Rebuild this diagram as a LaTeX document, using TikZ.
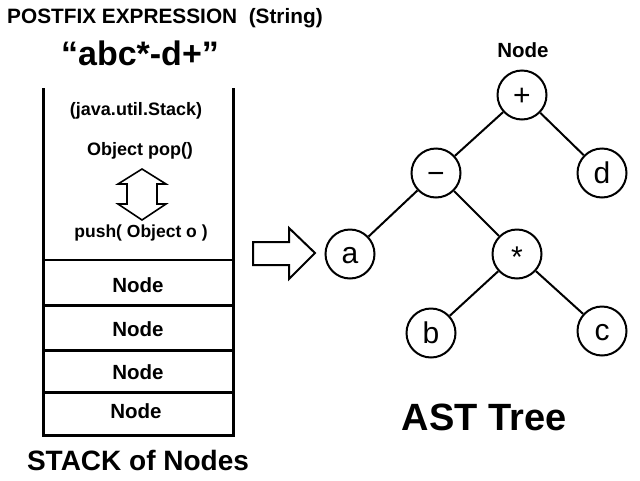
\documentclass[tikz,border=0pt]{standalone}
\usepackage{fontspec}
\setmainfont{Liberation Sans}
\newcommand{\fsz}[1]{\fontsize{#1}{#1}\selectfont}
\newcommand{\ctrglyph}[2]{\raisebox{-#1}[0pt][0pt]{#2}}
\begin{document}
\begin{tikzpicture}[x=1pt,y=-1pt,
  lbl/.style={inner sep=0pt, anchor=base, font=\bfseries},
  tnode/.style={circle, draw, line width=2pt, minimum size=49pt, inner sep=0pt, font=\fsz{30}},
  edge/.style={line width=2pt},
  wall/.style={line width=3pt},
  hollow/.style={draw, line width=1.6pt, line join=miter, fill=white}]
\useasboundingbox (0,0) rectangle (640,480);
% titles
\node[lbl, font=\bfseries\fsz{20.8}, anchor=base west] (title) at (7,23) {POSTFIX EXPRESSION\ \ (String)};
\node[lbl, font=\bfseries\fsz{34}] (expr) at (140,65) {“abc*-d+”};
% stack
\draw[wall] (43,88) -- (43,435) -- (233,435) -- (233,88);
\draw[line width=2pt] (43,260) -- (233,260);
\draw[wall] (43,305) -- (233,305);
\draw[wall] (43,350) -- (233,350);
\draw[wall] (43,392) -- (233,392);
\node[lbl, font=\bfseries\fsz{18}] (cls) at (136,115) {(java.util.Stack)};
\node[lbl, font=\bfseries\fsz{18}] (pop) at (140,155) {Object pop()};
\node[lbl, font=\bfseries\fsz{17.5}] (push) at (141,237) {push( Object o )};
\path[hollow] (142,169) -- (166,184) -- (157,184) -- (157,204) -- (166,204) -- (142,220)
  -- (118,204) -- (127,204) -- (127,184) -- (118,184) -- cycle;
\node[lbl, font=\bfseries\fsz{20.5}] (n1) at (138,292) {Node};
\node[lbl, font=\bfseries\fsz{20.5}] (n2) at (138,336) {Node};
\node[lbl, font=\bfseries\fsz{20.5}] (n3) at (138,379) {Node};
\node[lbl, font=\bfseries\fsz{20.5}] (n4) at (136,418) {Node};
\node[lbl, font=\bfseries\fsz{28}] (stk) at (138,470) {STACK of Nodes};
% big arrow
\path[hollow, line width=2pt] (253,242) -- (289,242) -- (289,228) -- (315,253) -- (289,279)
  -- (289,265) -- (253,265) -- cycle;
% tree
\node[lbl, font=\bfseries\fsz{20.5}] (nlbl) at (523,57) {Node};
\node[tnode] (plus) at (522,95) {\ctrglyph{10.6pt}{+}};
\node[tnode] (minus) at (436,173) {\ctrglyph{10.5pt}{−}};
\node[tnode] (d) at (602,173) {\ctrglyph{10.9pt}{d}};
\node[tnode] (a) at (350,254) {\ctrglyph{9pt}{a}};
\node[tnode] (star) at (517,254) {\ctrglyph{13.5pt}{*}};
\node[tnode] (b) at (431,333) {\ctrglyph{10.4pt}{b}};
\node[tnode] (c) at (602,331) {\ctrglyph{9.5pt}{c}};
\draw[edge] (plus) -- (minus);
\draw[edge] (plus) -- (d);
\draw[edge] (minus) -- (a);
\draw[edge] (minus) -- (star);
\draw[edge] (star) -- (b);
\draw[edge] (star) -- (c);
\node[lbl, font=\bfseries\fsz{38}] (ast) at (484,430) {AST Tree};
\end{tikzpicture}
\end{document}
